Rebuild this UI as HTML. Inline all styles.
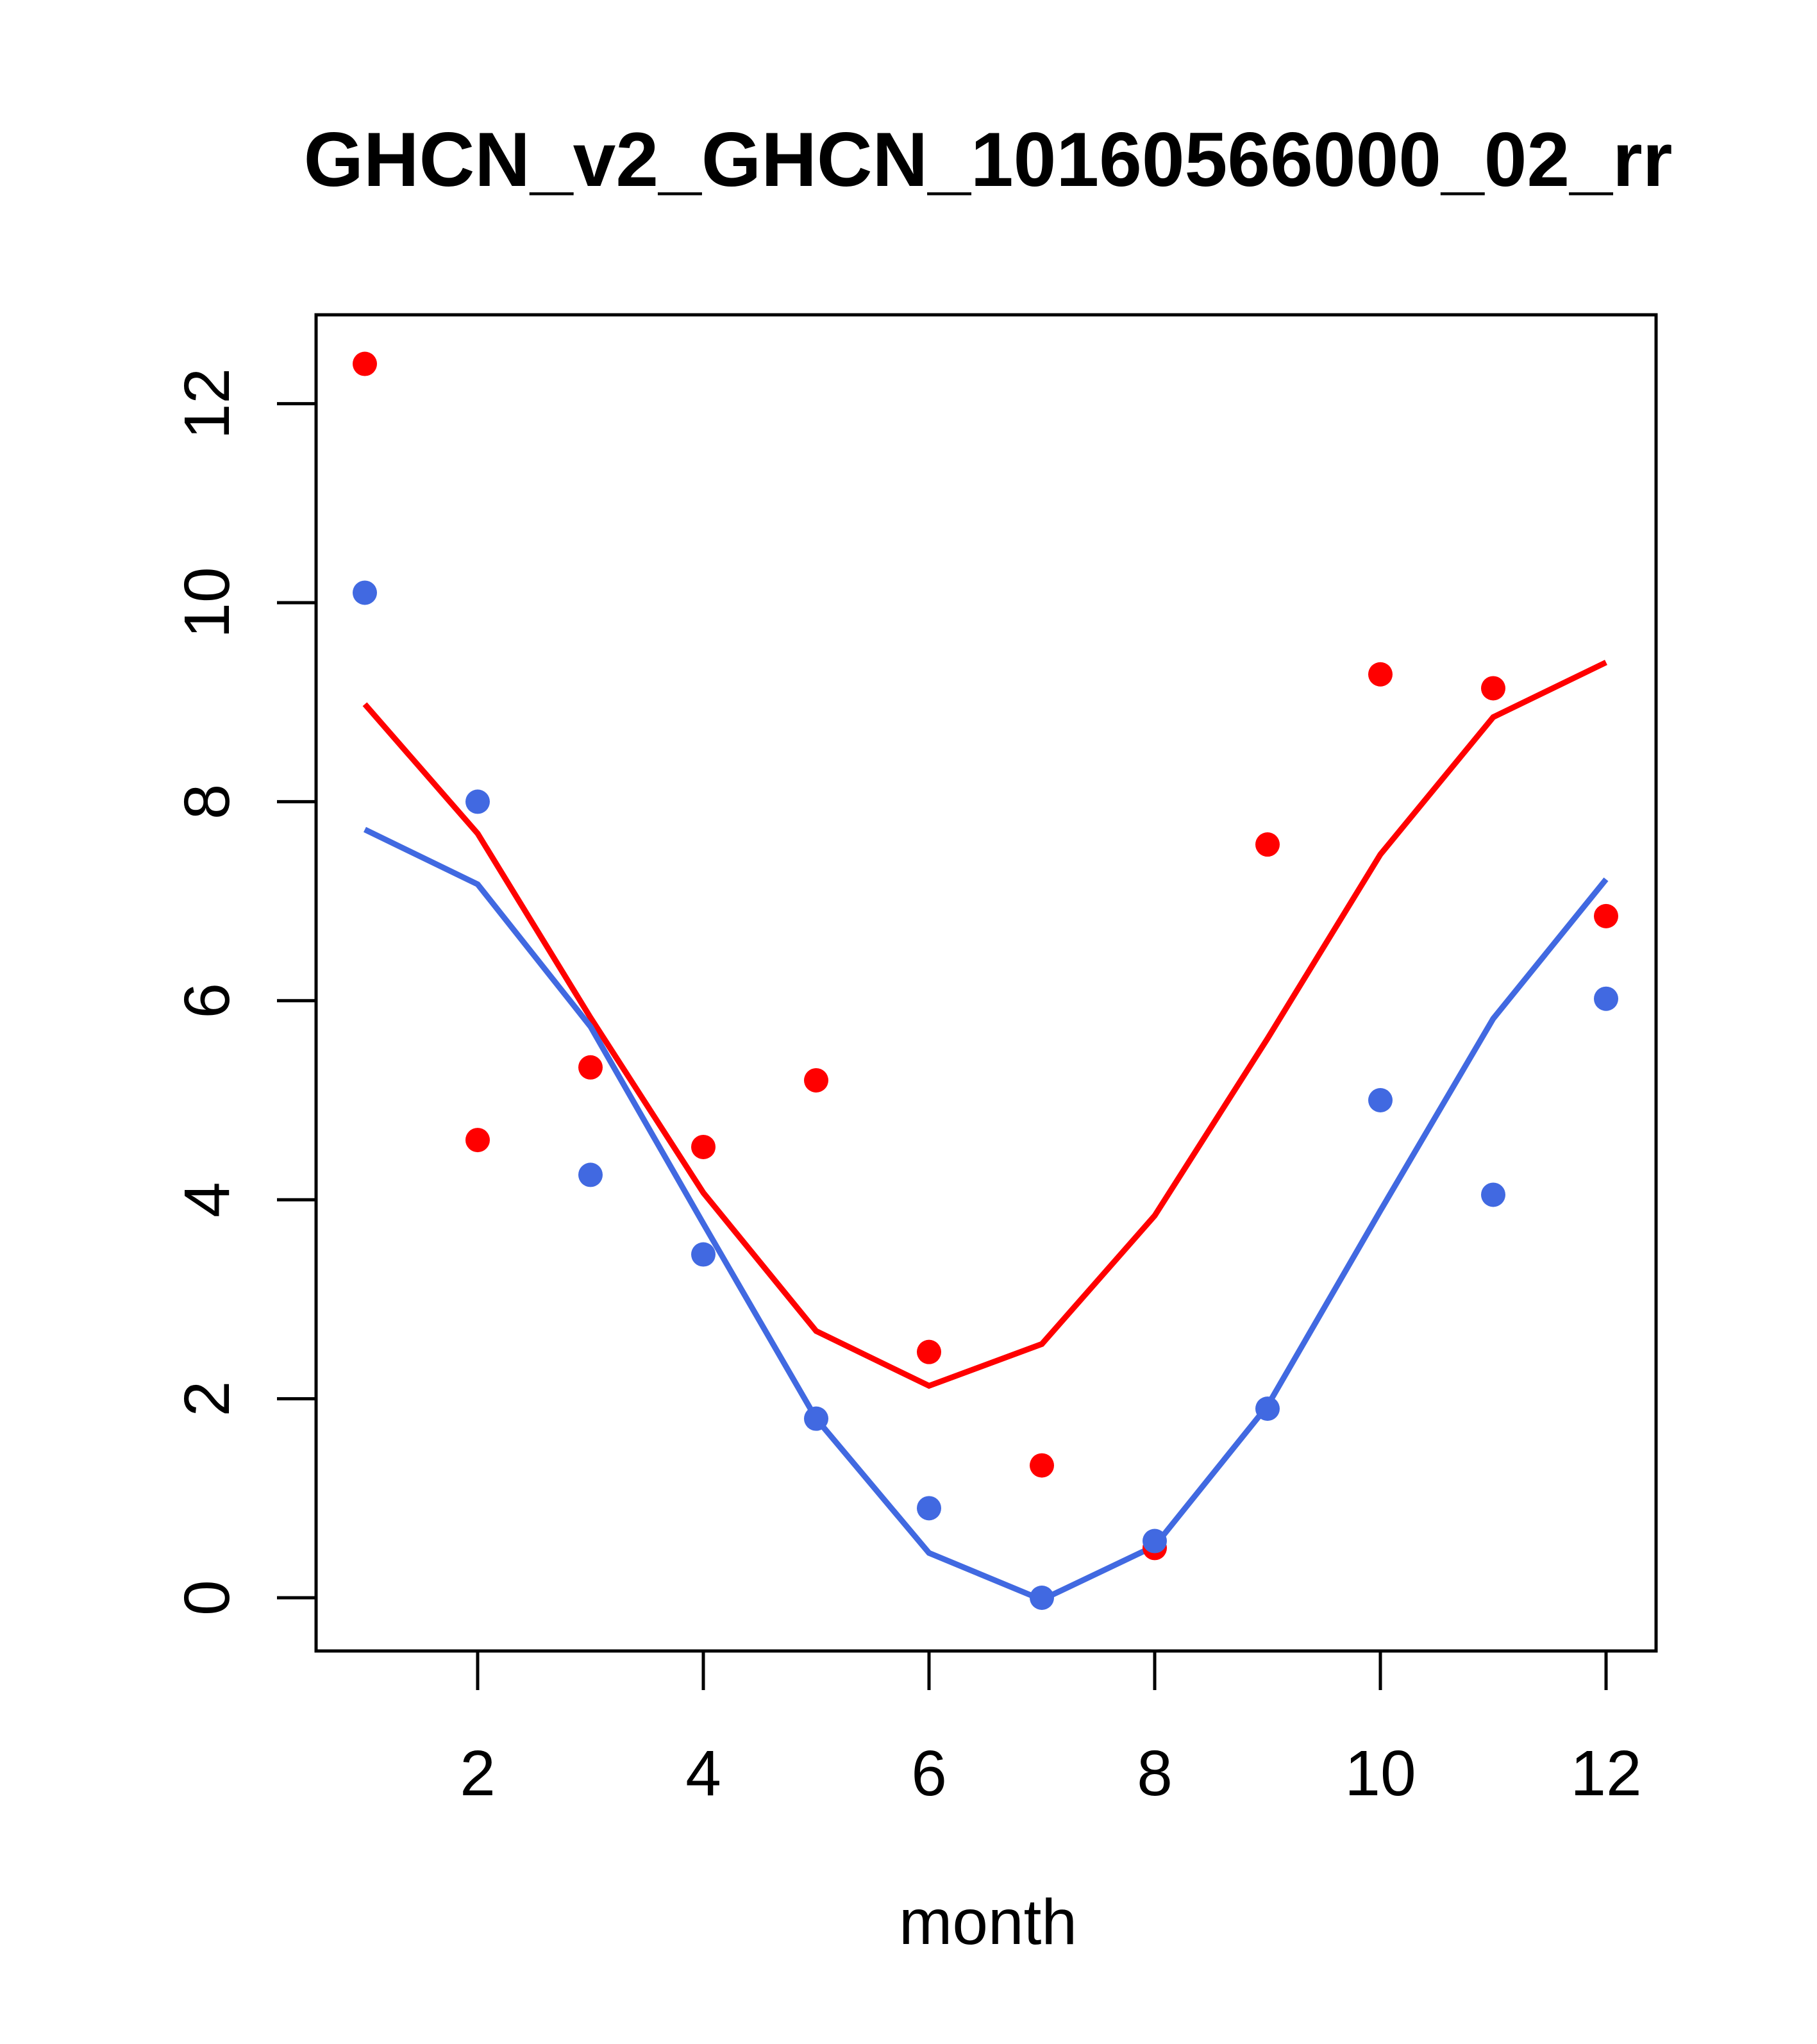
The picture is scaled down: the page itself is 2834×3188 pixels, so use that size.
<!DOCTYPE html>
<html><head><meta charset="utf-8"><style>
html,body{margin:0;padding:0;background:#fff;}
svg{display:block;}
text{font-family:"Liberation Sans",Arial,sans-serif;fill:#000;}
</style></head><body>
<svg id="chart" width="2834" height="3188" viewBox="0 0 2834 3188">
<text x="1541" y="290" font-size="120" font-weight="bold" text-anchor="middle">GHCN_v2_GHCN_10160566000_02_rr</text>
<rect x="493" y="491" width="2090" height="2084" fill="none" stroke="#000" stroke-width="5"/>
<g id="xaxis"></g>
<g id="yaxis"></g>
<text x="1541" y="3032" font-size="100" text-anchor="middle">month</text>
<g id="series"></g>
</svg>
<script>
const months=[1,2,3,4,5,6,7,8,9,10,11,12];
const redPoints=[12.4,4.6,5.33,4.53,5.2,2.47,1.33,0.5,7.57,9.28,9.14,6.85];
const bluePoints=[10.1,8.0,4.25,3.45,1.8,0.9,0.0,0.57,1.9,5.0,4.05,6.02];
const redLine=[8.98,7.68,5.83,4.07,2.68,2.13,2.55,3.84,5.62,7.47,8.85,9.4];
const blueLine=[7.72,7.17,5.74,3.76,1.8,0.45,-0.02,0.52,1.93,3.89,5.82,7.22];
const xTicks=[2,4,6,8,10,12];
const yTicks=[0,2,4,6,8,10,12];
const NS="http://www.w3.org/2000/svg";
function xs(v){return 569+(v-1)*176;}
function ys(v){return 2492-v*155.2;}
function mk(tag,attrs,parent){const e=document.createElementNS(NS,tag);for(const k in attrs)e.setAttribute(k,attrs[k]);parent.appendChild(e);return e;}
const xa=document.getElementById('xaxis'),ya=document.getElementById('yaxis'),sg=document.getElementById('series');
xTicks.forEach(t=>{
  const l=mk('line',{x1:xs(t),x2:xs(t),y1:2575,y2:2636,stroke:'#000','stroke-width':5},xa);
  
  
  const tx=mk('text',{x:xs(t),y:2800,'font-size':100,'text-anchor':'middle'},xa);
  tx.textContent=t;
  
  
});
yTicks.forEach(t=>{
  const l=mk('line',{x1:432,x2:493,y1:ys(t),y2:ys(t),stroke:'#000','stroke-width':5},ya);
  
  
  const tx=mk('text',{x:0,y:0,'font-size':100,'text-anchor':'middle',transform:`translate(357,${ys(t)}) rotate(-90)`},ya);
  tx.textContent=t;
  
  
});
function line(vals,color,name){
  const p=mk('polyline',{points:vals.map((v,i)=>xs(months[i])+','+ys(v)).join(' '),fill:'none',stroke:color,'stroke-width':9},sg);
  
  
}
function pts(vals,color,name){
  vals.forEach((v,i)=>{
    const c=mk('circle',{cx:xs(months[i]),cy:ys(v),r:19,fill:color},sg);
    
    
  });
}
line(redLine,'#ff0000','red-line');
line(blueLine,'#4169e1','blue-line');
pts(redPoints,'#ff0000','red-point');
pts(bluePoints,'#4169e1','blue-point');
</script>
</body></html>
